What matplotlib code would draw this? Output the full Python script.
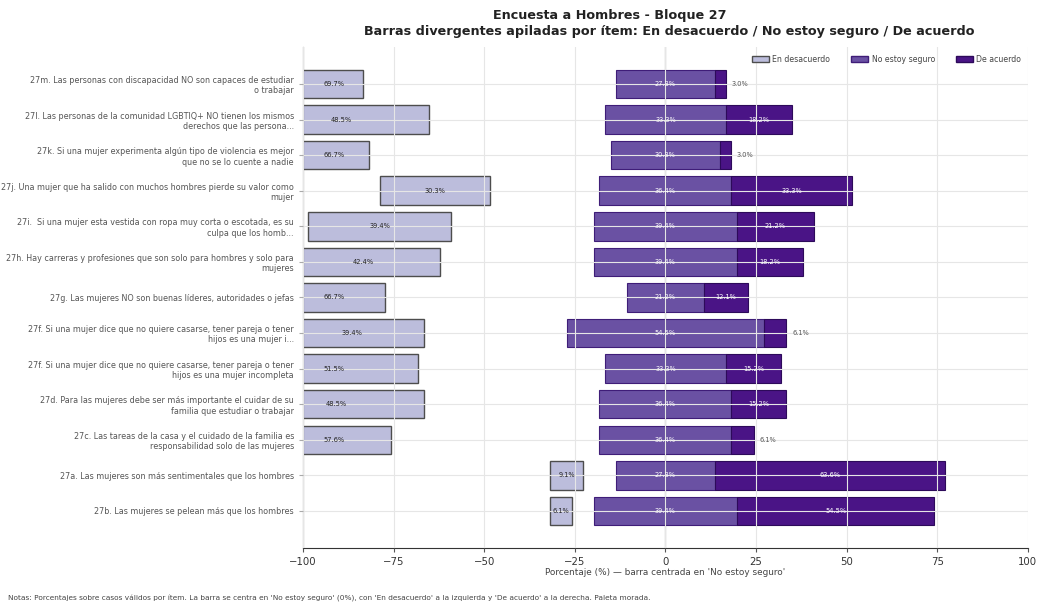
import numpy as np
import matplotlib
matplotlib.use("Agg")
import matplotlib.pyplot as plt
from matplotlib.patches import Patch

# ------------------------------------------------------------
# Data (top to bottom)
# ------------------------------------------------------------
items = [
    "27m. Las personas con discapacidad NO son capaces de estudiar\no trabajar",
    "27l. Las personas de la comunidad LGBTIQ+ NO tienen los mismos\nderechos que las persona...",
    "27k. Si una mujer experimenta algún tipo de violencia es mejor\nque no se lo cuente a nadie",
    "27j. Una mujer que ha salido con muchos hombres pierde su valor como\nmujer",
    "27i.  Si una mujer esta vestida con ropa muy corta o escotada, es su\nculpa que los homb...",
    "27h. Hay carreras y profesiones que son solo para hombres y solo para\nmujeres",
    "27g. Las mujeres NO son buenas líderes, autoridades o jefas",
    "27f. Si una mujer dice que no quiere casarse, tener pareja o tener\nhijos es una mujer i...",
    "27f. Si una mujer dice que no quiere casarse, tener pareja o tener\nhijos es una mujer incompleta",
    "27d. Para las mujeres debe ser más importante el cuidar de su\nfamilia que estudiar o trabajar",
    "27c. Las tareas de la casa y el cuidado de la familia es\nresponsabilidad solo de las mujeres",
    "27a. Las mujeres son más sentimentales que los hombres",
    "27b. Las mujeres se pelean más que los hombres",
]
desacuerdo = [69.7, 48.5, 66.7, 30.3, 39.4, 42.4, 66.7, 39.4, 51.5, 48.5, 57.6, 9.1, 6.1]
no_seguro = [27.3, 33.3, 30.3, 36.4, 39.4, 39.4, 21.2, 54.5, 33.3, 36.4, 36.4, 27.3, 39.4]
de_acuerdo = [3.0, 18.2, 3.0, 33.3, 21.2, 18.2, 12.1, 6.1, 15.2, 15.2, 6.1, 63.6, 54.5]

c_des = "#bcbddc"
c_neu = "#6a51a3"
c_acu = "#4a1486"

des = np.array(desacuerdo)
neu = np.array(no_seguro)
acu = np.array(de_acuerdo)
y = np.arange(len(items))

# ------------------------------------------------------------
# Figure
# ------------------------------------------------------------
fig = plt.figure(figsize=(10.37, 6.03), dpi=100)
ax = fig.add_axes([0.2922, 0.0912, 0.699, 0.831])

half = neu / 2
# desacuerdo bars (anchored at the left end of the neutral block)
ax.barh(y, -des, left=-(half + des), height=0.8, color=c_des,
        edgecolor="#4d4d4d", linewidth=1.0)
ax.barh(y, neu, left=-half, height=0.8, color=c_neu,
        edgecolor="#3f1d78", linewidth=0.8)
ax.barh(y, acu, left=half, height=0.8, color=c_acu,
        edgecolor="#2d0a5a", linewidth=0.8)

# value labels
for i in range(len(items)):
    xd = -(half[i] + 1.5 * des[i])
    xd = max(xd, -91.5)
    ax.text(xd, y[i], "{:.1f}%".format(des[i]), ha="center", va="center",
            fontsize=4.8, color="#222222")
    ax.text(0, y[i], "{:.1f}%".format(neu[i]), ha="center", va="center",
            fontsize=4.8, color="white")
    if acu[i] >= 10:
        ax.text(half[i] + acu[i] / 2, y[i], "{:.1f}%".format(acu[i]),
                ha="center", va="center", fontsize=4.8, color="white")
    else:
        ax.text(half[i] + acu[i] + 1.6, y[i], "{:.1f}%".format(acu[i]),
                ha="left", va="center", fontsize=4.8, color="#555555")

ax.axvline(0, color="#444444", linewidth=0.8)

ax.set_xlim(-100, 100)
ax.set_yticks(y)
ax.set_yticklabels(items, fontsize=5.75, color="#555555")
ax.invert_yaxis()
ax.set_xticks([-100, -75, -50, -25, 0, 25, 50, 75, 100])
ax.tick_params(axis="x", labelsize=7.3, length=3, color="#555555",
               labelcolor="#333333")
ax.tick_params(axis="y", length=3, color="#aaaaaa")

ax.grid(True, color="#e6e6e6", linewidth=0.8)
ax.set_axisbelow(False)
ax.spines["top"].set_visible(False)
ax.spines["right"].set_visible(False)
ax.spines["left"].set_color("#333333")
ax.spines["bottom"].set_color("#333333")

ax.set_xlabel("Porcentaje (%) — barra centrada en 'No estoy seguro'",
              fontsize=6.4, color="#444444", labelpad=1)

handles = [Patch(facecolor=c_des, edgecolor="#4d4d4d", label="En desacuerdo"),
           Patch(facecolor=c_neu, edgecolor="#3f1d78", label="No estoy seguro"),
           Patch(facecolor=c_acu, edgecolor="#2d0a5a", label="De acuerdo")]
leg = ax.legend(handles=handles, loc="upper right", ncol=3, frameon=False,
                fontsize=5.6, bbox_to_anchor=(1.0, 0.998), handlelength=2.2,
                columnspacing=2.7, handleheight=0.85, handletextpad=0.4)
for t in leg.get_texts():
    t.set_color("#444444")

# titles
fig.text(0.588, 0.974, "Encuesta a Hombres - Bloque 27", ha="center",
         va="center", fontsize=9.2, fontweight="bold", color="#222222")
fig.text(0.645, 0.947,
         "Barras divergentes apiladas por ítem: En desacuerdo / No estoy seguro / De acuerdo",
         ha="center", va="center", fontsize=9.2, fontweight="bold", color="#222222")

fig.text(0.008, 0.002,
         "Notas: Porcentajes sobre casos válidos por ítem. La barra se centra en 'No estoy seguro' (0%), "
         "con 'En desacuerdo' a la izquierda y 'De acuerdo' a la derecha. Paleta morada.",
         ha="left", va="bottom", fontsize=5.3, color="#444444")

fig.savefig("out.png", dpi=100)
